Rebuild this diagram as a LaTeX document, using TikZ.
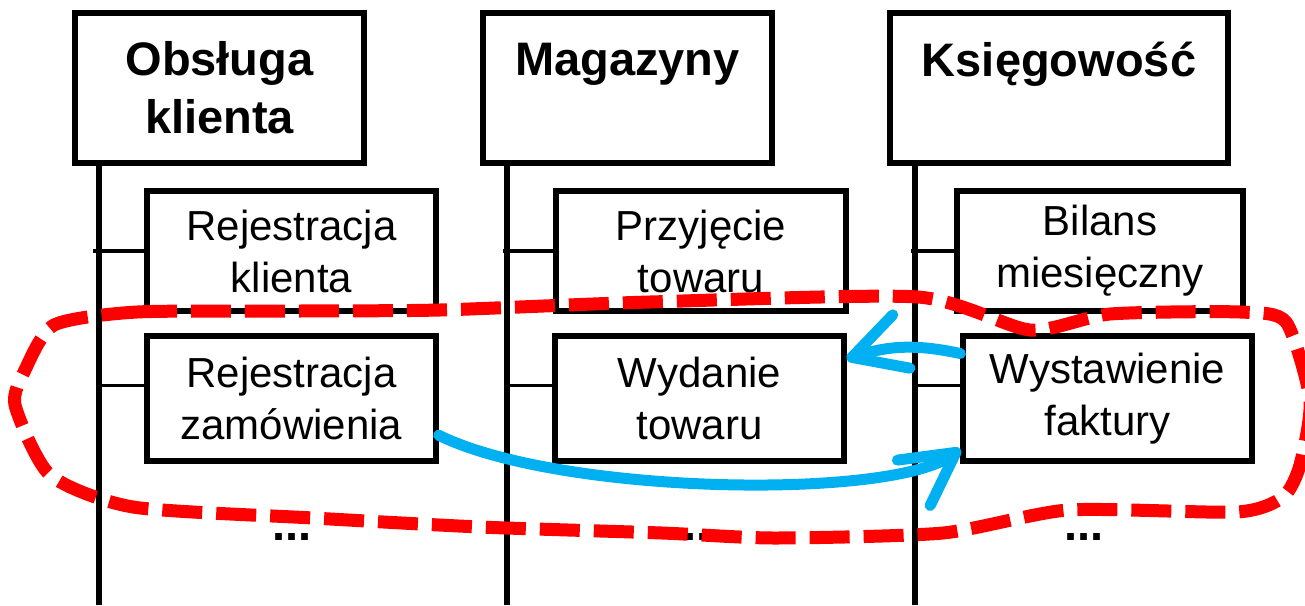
\documentclass[tikz,border=0pt]{standalone}
\usepackage{fontspec}
\setmainfont{Liberation Sans}
\usetikzlibrary{arrows.meta}
\definecolor{groupred}{HTML}{FF0000}
\definecolor{flowblue}{HTML}{00B0F0}
\tikzset{
  dept/.style={draw, line width=2.6pt, minimum width=144.5pt, minimum height=75pt, inner sep=0pt, align=center, font=\fontsize{23.5}{29}\selectfont\bfseries},
  proc/.style={draw, line width=2.6pt, minimum width=144.5pt, minimum height=60pt, inner sep=0pt, align=center, font=\fontsize{21}{26}\selectfont},
  lifeline/.style={line width=2.6pt},
  tickline/.style={line width=1.8pt},
  flow/.style={flowblue, line width=5.5pt, line cap=round, -{Straight Barb[length=26pt,width=28pt,round]}},
  groupline/.style={groupred, line width=6.5pt, dash pattern=on 20pt off 7pt},
  more/.style={font=\fontsize{23.5}{29}\selectfont\bfseries}
}
\begin{document}
\begin{tikzpicture}[x=0.5pt, y=-0.5pt]
\useasboundingbox (0,0) rectangle (1305,605);
\node[dept] (ob) at (219.5,88){Obsługa\\klienta};
\node[dept] (mg) at (627.5,88){Magazyny\\\mbox{}};
\node[dept, minimum width=169pt] (ks) at (1059,88){Księgowość\\\mbox{}};
\coordinate (ll1) at (99,605);
\coordinate (ll2) at (507,605);
\coordinate (ll3) at (915,605);
\draw[lifeline](ll1 |- ob.south) -- (ll1);
\draw[lifeline](ll2 |- mg.south) -- (ll2);
\draw[lifeline](ll3 |- ks.south) -- (ll3);
\node[proc] (rk) at (291.5,251){Rejestracja\\klienta};
\node[proc, minimum width=145pt] (pt) at (701,251){Przyjęcie\\towaru};
\node[proc, minimum width=143pt] (bm) at (1100,251){Bilans\\miesięczny};
\node[proc, minimum height=62.5pt] (rz) at (291.5,398.5){Rejestracja\\zamówienia};
\node[proc, minimum height=62.5pt] (wt) at (699.5,398.5){Wydanie\\towaru};
\node[proc, minimum height=62.5pt] (wf) at (1107.5,398.5){Wystawienie\\faktury};
\draw[tickline](rk.west -| ll1) ++(-6,0) -- (rk.west);
\draw[tickline](pt.west -| ll2) ++(-4,0) -- (pt.west);
\draw[tickline](bm.west -| ll3) ++(-4,0) -- (bm.west);
\draw[tickline](rz.175 -| ll1) -- (rz.175);
\draw[tickline](wt.175 -| ll2) -- (wt.175);
\draw[tickline](wf.175 -| ll3) -- (wf.175);
\node[more] (dots1) at (292,537){...};
\node[more] (dots2) at (690,537){...};
\node[more] (dots3) at (1084,537){...};
\draw[flow](rz.-14) .. controls (560,495) and (890,500) .. (wf.199);
\draw[flow](wf.163) to[bend right=15] (wt.15);
\draw[groupline] plot[smooth cycle, tension=0.4] coordinates {(54,325) (137,312) (300,311) (440,310) (650,302) (918,297) (1030,330) (1110,314) (1240,312) (1286,322) (1310,400) (1300,465) (1283,497) (1237,512) (1068,510) (943,533) (775,538) (662,533) (480,527) (313,518) (133,507) (50,475) (15,405) (25,370)};
\end{tikzpicture}
\end{document}
